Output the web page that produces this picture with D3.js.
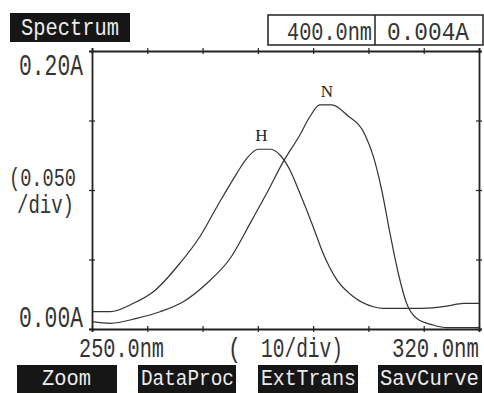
<!DOCTYPE html>
<html>
<head>
<meta charset="utf-8">
<script src="https://cdn.jsdelivr.net/npm/d3@7"></script>
<style>
  html,body{margin:0;padding:0;background:#fff;}
  svg{display:block;}
  .mono{font-family:"Liberation Mono","DejaVu Sans Mono",monospace;}
</style>
</head>
<body>
<svg id="chart" width="484" height="393"></svg>
<script>
// ---- data ----
const xTickValues = [250, 260, 270, 280, 290, 300, 310, 320];
const yTickValues = [0, 0.05, 0.10, 0.15, 0.20];
const xTickLabels = ["250.0nm", "320.0nm"];
const yTickLabels = ["0.20A", "0.00A"];
const xDivLabel = ["(", "10/div)"];
const yDivLabel = ["(0.050", "/div)"];
const readout = ["400.0nm", "0.004A"];
const title = "Spectrum";
const buttons = ["Zoom", "DataProc", "ExtTrans", "SavCurve"];
const seriesNames = ["H", "N"];

const hWavelength = [250, 253.3, 257.5, 261.1, 265.9, 269.5, 272.6, 276.2, 278.0, 280.1, 282.2, 284.0, 285.8, 287.6, 290.0, 291.8, 294.3, 297.3, 300.9, 302.7, 309.6, 314.2, 317.2, 320];
const hAbs = [0.0125, 0.0125, 0.0185, 0.0268, 0.0473, 0.0664, 0.0880, 0.1120, 0.1228, 0.1293, 0.1293, 0.1252, 0.1144, 0.0976, 0.0736, 0.0545, 0.0353, 0.0232, 0.0160, 0.0149, 0.0149, 0.0165, 0.0185, 0.0185];

const nWavelength = [250, 253.3, 258.1, 262.3, 266.5, 270.8, 275.0, 278.6, 281.6, 284.6, 287.6, 289.4, 291.2, 293.4, 296.1, 299.4, 300.9, 302.4, 303.9, 305.4, 306.9, 308.7, 311.7, 314.2, 320];
const nAbs = [0.0053, 0.0041, 0.0077, 0.0124, 0.0196, 0.0329, 0.0509, 0.0760, 0.0976, 0.1204, 0.1396, 0.1527, 0.1612, 0.1612, 0.1540, 0.1396, 0.1240, 0.1000, 0.0688, 0.0401, 0.0185, 0.0077, 0.0029, 0.0010, 0.0010];

// ---- layout ----
const svg = d3.select("#chart");
const L = 92, R = 479, T = 51, B = 329;
const x = d3.scaleLinear().domain([250, 320]).range([L, R]);
const y = d3.scaleLinear().domain([0, 0.2]).range([B, T]);
const ink = "#222";
const textInk = "#333";

// narrow, tall dot-matrix-like text: width from font size, height by vertical stretch
function monoText(str, x0, x1, base, capH, fill) {
  const n = str.length;
  const fs = (x1 - x0 + 2) / (n * 0.6);
  const sy = capH / (fs * 0.66);
  return svg.append("text").attr("class", "mono")
    .attr("transform", `translate(${x0 - 1},${base}) scale(1,${sy.toFixed(3)})`)
    .attr("x", 0).attr("y", 0)
    .attr("font-size", fs.toFixed(2))
    .attr("fill", fill || textInk)
    .text(str);
}

// title box
svg.append("rect").attr("x", 10).attr("y", 13).attr("width", 120).attr("height", 29).attr("fill", "#161616");
monoText(title, 22, 118, 35, 16, "#ececec");

// readout box
svg.append("rect").attr("x", 268).attr("y", 15).attr("width", 215).attr("height", 30)
  .attr("fill", "none").attr("stroke", ink).attr("stroke-width", 1.5);
svg.append("line").attr("x1", 375).attr("x2", 375).attr("y1", 15).attr("y2", 45)
  .attr("stroke", ink).attr("stroke-width", 1.5);
monoText(readout[0], 288, 371, 40, 17);
monoText(readout[1], 388, 468, 40, 17);

// axes with crossing ticks
function styleAxis(g) {
  g.select(".domain").attr("stroke", ink).attr("stroke-width", 1.8);
  g.selectAll(".tick line").attr("stroke", ink).attr("stroke-width", 1.2);
  g.selectAll(".tick text").remove();
}
const gB = svg.append("g").attr("transform", `translate(0,${B})`)
  .call(d3.axisBottom(x).tickValues(xTickValues).tickSizeOuter(0).tickSize(3));
styleAxis(gB); gB.selectAll(".tick line").attr("y1", -3);
const gT = svg.append("g").attr("transform", `translate(0,${T})`)
  .call(d3.axisTop(x).tickValues(xTickValues).tickSizeOuter(0).tickSize(3));
styleAxis(gT); gT.selectAll(".tick line").attr("y1", 3);
const gL = svg.append("g").attr("transform", `translate(${L},0)`)
  .call(d3.axisLeft(y).tickValues(yTickValues).tickSizeOuter(0).tickSize(3));
styleAxis(gL); gL.selectAll(".tick line").attr("x1", 3);
const gR = svg.append("g").attr("transform", `translate(${R},0)`)
  .call(d3.axisRight(y).tickValues(yTickValues).tickSizeOuter(0).tickSize(3));
styleAxis(gR); gR.selectAll(".tick line").attr("x1", -3);

// axis labels
monoText(yTickLabels[0], 20, 82, 75, 19);
monoText(yTickLabels[1], 20, 82, 327, 19);
monoText(yDivLabel[0], 10, 75, 186, 17);
monoText(yDivLabel[1], 18, 73, 213, 17);
monoText(xTickLabels[0], 80, 163, 357, 18);
monoText(xDivLabel[0], 229, 240, 357, 18);
monoText(xDivLabel[1], 262, 342, 357, 18);
monoText(xTickLabels[1], 393, 478, 357, 18);

// curves
const line = d3.line().x(d => x(d[0])).y(d => y(d[1])).curve(d3.curveMonotoneX);
const hData = hWavelength.map((w, i) => [w, hAbs[i]]);
const nData = nWavelength.map((w, i) => [w, nAbs[i]]);
[hData, nData].forEach(d => {
  svg.append("path").datum(d).attr("d", line)
    .attr("fill", "none").attr("stroke", "#333").attr("stroke-width", 1.2);
});

// series labels at the peaks
const hPeak = hData.reduce((a, b) => b[1] > a[1] ? b : a);
const nPeak = nData.reduce((a, b) => b[1] > a[1] ? b : a);
svg.append("text").attr("x", x(hPeak[0]) + 3).attr("y", y(hPeak[1]) - 8)
  .attr("text-anchor", "middle").attr("font-family", "Liberation Serif, serif")
  .attr("font-size", 17).attr("fill", "#222").text(seriesNames[0]);
svg.append("text").attr("x", x(nPeak[0]) + 7).attr("y", y(nPeak[1]) - 8)
  .attr("text-anchor", "middle").attr("font-family", "Liberation Serif, serif")
  .attr("font-size", 17).attr("fill", "#222").text(seriesNames[1]);

// buttons
const btnBoxes = [[17, 117], [138, 236], [258, 358], [378, 482]];
const btnText = [[43, 90], [142, 233], [262, 355], [381, 478]];
buttons.forEach((b, i) => {
  svg.append("rect").attr("x", btnBoxes[i][0]).attr("y", 365)
    .attr("width", btnBoxes[i][1] - btnBoxes[i][0]).attr("height", 28).attr("fill", "#161616");
  monoText(b, btnText[i][0], btnText[i][1], 385, 15, "#ececec");
});
</script>
</body>
</html>
